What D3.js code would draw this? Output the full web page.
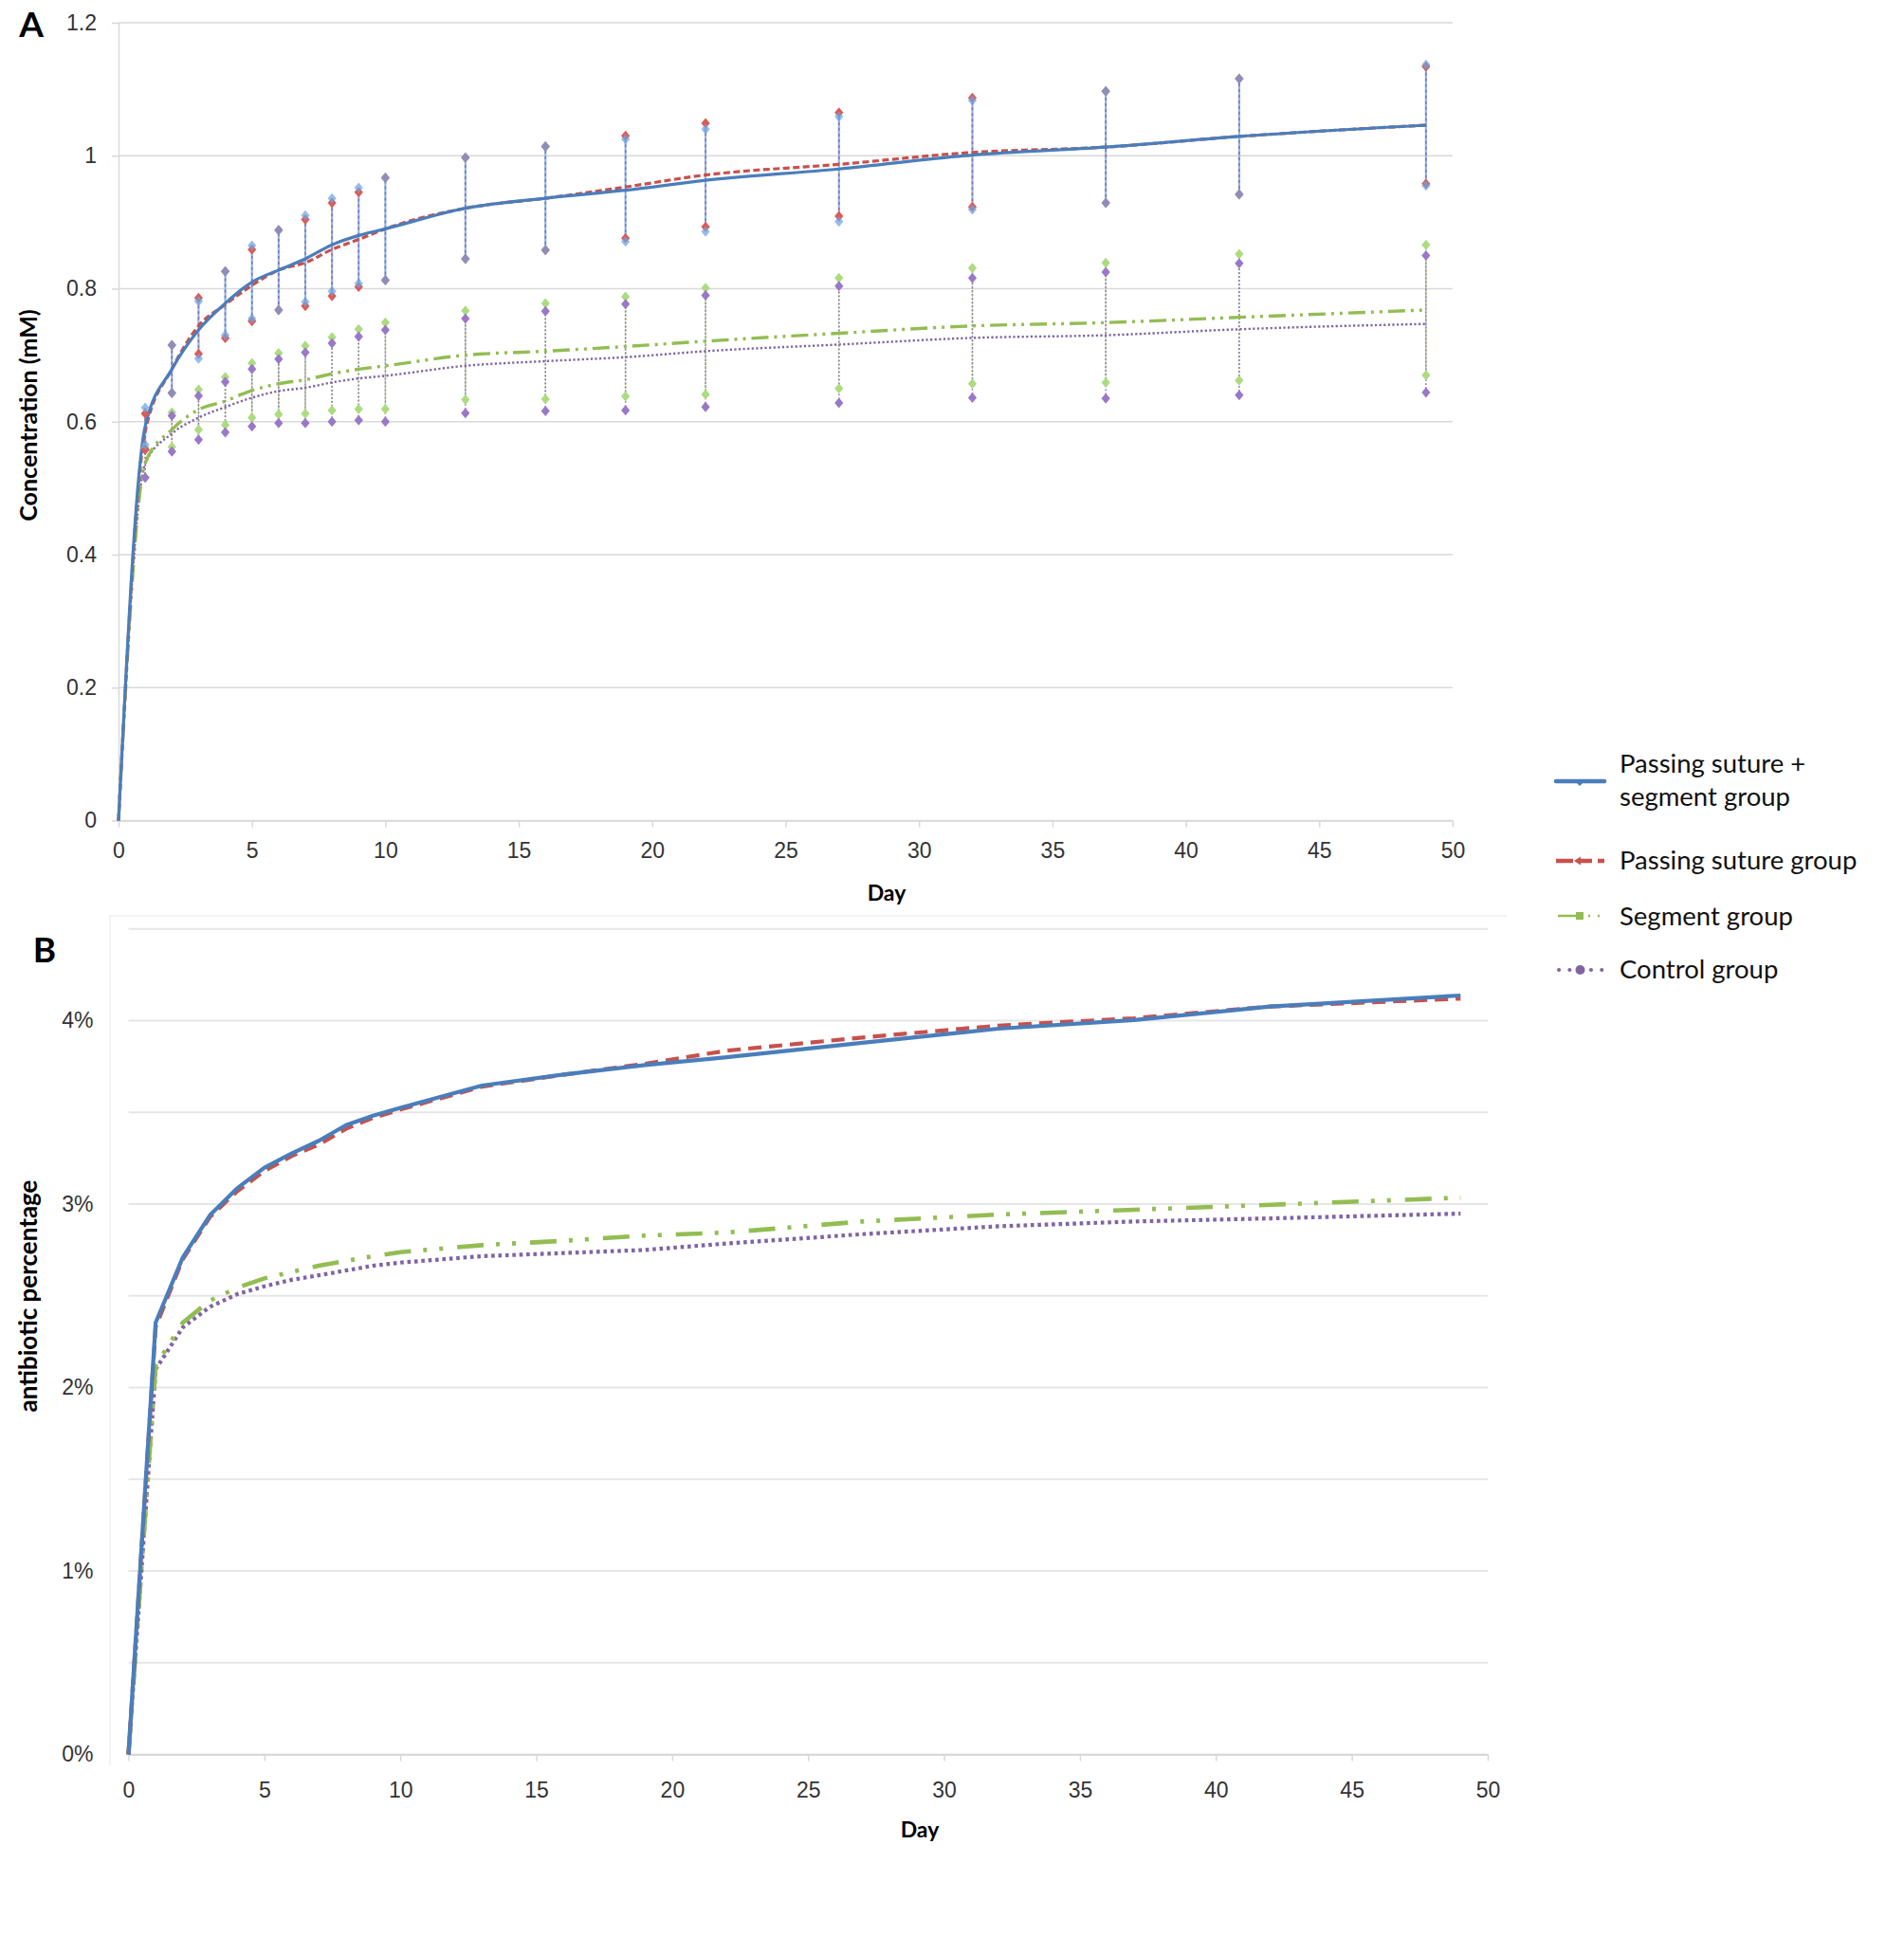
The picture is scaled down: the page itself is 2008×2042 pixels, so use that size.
<!DOCTYPE html>
<html><head><meta charset="utf-8">
<script src="https://cdn.jsdelivr.net/npm/d3@7"></script>
<style>
body{margin:0;background:#fff;}
svg{display:block;font-family:Lato,"Open Sans",sans-serif;}
</style></head><body>
<svg id="c" width="2008" height="2042"></svg>
<script>
// ---------- DATA ----------
const days = [0,1,2,3,4,5,6,7,8,9,10,13,16,19,22,27,32,37,42,49];
const groups = ["Passing suture + segment group","Passing suture group","Segment group","Control group"];

// Panel A: concentration (mM), mean and SD
const concPSSeg   = [0,0.593,0.679,0.738,0.778,0.810,0.828,0.845,0.866,0.880,0.890,0.921,0.936,0.948,0.963,0.980,1.001,1.013,1.029,1.046];
const concPSSegSD = [0,0.028,0.036,0.043,0.048,0.055,0.060,0.065,0.070,0.072,0.077,0.076,0.078,0.077,0.077,0.079,0.082,0.084,0.087,0.091];
const concPS      = [0,0.585,0.679,0.744,0.776,0.805,0.828,0.839,0.859,0.874,0.890,0.921,0.936,0.953,0.971,0.987,1.005,1.013,1.029,1.046];
const concPSSD    = [0,0.027,0.036,0.042,0.050,0.054,0.060,0.065,0.070,0.071,0.077,0.076,0.078,0.077,0.078,0.078,0.082,0.084,0.087,0.088];
const concSeg     = [0,0.538,0.588,0.618,0.631,0.647,0.657,0.663,0.672,0.679,0.684,0.700,0.706,0.713,0.721,0.733,0.744,0.749,0.757,0.768];
const concSegSD   = [0,0.022,0.026,0.030,0.036,0.041,0.046,0.051,0.055,0.060,0.065,0.067,0.072,0.075,0.080,0.083,0.087,0.090,0.095,0.098];
const concCtrl    = [0,0.537,0.582,0.606,0.622,0.636,0.646,0.651,0.659,0.665,0.669,0.684,0.691,0.697,0.706,0.716,0.726,0.730,0.739,0.747];
const concCtrlSD  = [0,0.021,0.027,0.033,0.038,0.043,0.048,0.053,0.059,0.063,0.069,0.071,0.075,0.080,0.084,0.088,0.090,0.095,0.099,0.103];

// Panel B: antibiotic percentage (%)
const pctPSSeg = [0,2.354,2.710,2.940,3.086,3.198,3.276,3.345,3.430,3.482,3.525,3.646,3.706,3.758,3.800,3.879,3.956,4.003,4.077,4.137];
const pctPS    = [0,2.330,2.700,2.930,3.070,3.180,3.262,3.325,3.410,3.470,3.515,3.640,3.705,3.765,3.836,3.908,3.973,4.013,4.077,4.120];
const pctSeg   = [0,2.120,2.354,2.474,2.544,2.595,2.630,2.664,2.690,2.716,2.738,2.776,2.800,2.828,2.845,2.905,2.943,2.969,2.996,3.035];
const pctCtrl  = [0,2.100,2.328,2.440,2.509,2.552,2.587,2.612,2.638,2.664,2.681,2.716,2.733,2.750,2.785,2.836,2.879,2.905,2.922,2.948];

// ticks
const xTicks  = [0,5,10,15,20,25,30,35,40,45,50];
const yTicksA = [0,0.2,0.4,0.6,0.8,1,1.2];
const yTicksB = [0,1,2,3,4];
const yGridB  = [0,0.5,1,1.5,2,2.5,3,3.5,4,4.5];

// ---------- STYLE ----------
const sty = [
  {line:"#4a7ebb", err:"#6fa3e0", dA:null, dB:null, wA:3.2, wB:4.2, dErr:null, errW:2.2, errC:"#8db9ea"},
  {line:"#c9504c", err:"#dc5b57", dA:"7,3.5", dB:"14,8", wA:3.2, wB:4.2, dErr:"3,3", errW:1.4, errC:"#8a6aa0"},
  {line:"#93bd52", err:"#addc80", dA:"18,6,3,6,3,6", dB:"28,13,4,13,4,15", wA:3.4, wB:4.6, dErr:"2,2", errW:1.5, errC:"#8fbd55"},
  {line:"#8064a2", err:"#9a78c8", dA:"2.2,2.4", dB:"3.6,3.8", wA:2.4, wB:4.2, dErr:"1.6,2.4", errW:1.5, errC:"#9470c0"}
];
const concMeans = [concPSSeg, concPS, concSeg, concCtrl];
const concSDs   = [concPSSegSD, concPSSD, concSegSD, concCtrlSD];
const pctVals   = [pctPSSeg, pctPS, pctSeg, pctCtrl];

const svg = d3.select("#c");
svg.append("rect").attr("width",2008).attr("height",2042).attr("fill","#fff");

const gridC = "#d9d9d9", tickC = "#333333", tickFS = 23;

// ---------- PANEL A ----------
const xA = d3.scaleLinear().domain([0,50]).range([125,1532]);
const yA = d3.scaleLinear().domain([0,1.2]).range([865.5,24]);
const gA = svg.append("g");

gA.append("g").selectAll("line").data(yTicksA).join("line")
  .attr("x1",xA(0)).attr("x2",xA(50)).attr("y1",d=>yA(d)).attr("y2",d=>yA(d))
  .attr("stroke",gridC).attr("stroke-width",1.5);

const axYA = gA.append("g").attr("transform",`translate(${xA(0)},0)`)
  .call(d3.axisLeft(yA).tickValues(yTicksA).tickFormat(d3.format("~g")).tickSize(7).tickPadding(16).tickSizeOuter(0));
const axXA = gA.append("g").attr("transform",`translate(0,${yA(0)})`)
  .call(d3.axisBottom(xA).tickValues(xTicks).tickFormat(d3.format("d")).tickSize(7).tickPadding(16).tickSizeOuter(0));
[axYA, axXA].forEach(a=>{
  a.select(".domain").attr("stroke",gridC).attr("stroke-width",1.5);
  a.selectAll(".tick line").attr("stroke",gridC).attr("stroke-width",1.5);
  a.selectAll(".tick text").attr("fill",tickC).attr("font-size",tickFS);
});

// error bar lines
const diamond = "M0,-5.5L4.6,0L0,5.5L-4.6,0Z";
const errOrder = [2,3,0,1];
errOrder.forEach(i=>{
  const s = sty[i];
  gA.append("g").selectAll("line").data(days.map((d,k)=>({d, m:concMeans[i][k], sd:concSDs[i][k]})).filter(p=>p.sd>0))
    .join("line")
    .attr("x1",p=>xA(p.d)).attr("x2",p=>xA(p.d))
    .attr("y1",p=>yA(p.m-p.sd)).attr("y2",p=>yA(p.m+p.sd))
    .attr("stroke",s.errC).attr("stroke-width",s.errW)
    .attr("stroke-dasharray",s.dErr);
});

// mean lines (smoothed)
const lineA = d3.line().x((d,k)=>xA(days[k])).y(d=>yA(d)).curve(d3.curveMonotoneX);
[3,2,1,0].forEach(i=>{
  const s = sty[i];
  gA.append("path").attr("d",lineA(concMeans[i])).attr("fill","none")
    .attr("stroke",s.line).attr("stroke-width",s.wA)
    .attr("stroke-dasharray",s.dA).attr("stroke-linejoin","round");
});

// diamonds at error-bar ends
const diaOrder = [2,3,1,0];
diaOrder.forEach(i=>{
  const s = sty[i];
  const pts = [];
  days.forEach((d,k)=>{ const sd=concSDs[i][k]; if(sd>0){ pts.push({d, v:concMeans[i][k]+sd}); pts.push({d, v:concMeans[i][k]-sd}); } });
  gA.append("g").selectAll("path").data(pts).join("path")
    .attr("d",diamond).attr("transform",p=>`translate(${xA(p.d)},${yA(p.v)})`)
    .attr("fill",s.err).attr("opacity", i===0?0.72:1);
});

// Titles A
gA.append("text").attr("x",33).attr("y",39).attr("text-anchor","middle")
  .attr("font-size",37).attr("font-weight","bold").attr("fill","#000").text("A");
gA.append("text").attr("transform","translate(39,438) rotate(-90)").attr("text-anchor","middle")
  .attr("font-size",25).attr("font-weight","bold").attr("fill","#000").text("Concentration (mM)");
gA.append("text").attr("x",935).attr("y",950).attr("text-anchor","middle")
  .attr("font-size",23).attr("font-weight","bold").attr("fill","#000").text("Day");

// ---------- PANEL B ----------
const xB = d3.scaleLinear().domain([0,50]).range([135.5,1569]);
const yB = d3.scaleLinear().domain([0,4.5]).range([1850.5,979.75]);
const gB = svg.append("g");

// chart area frame (faint)
gB.append("path").attr("d","M116,1862V966H1589").attr("fill","none").attr("stroke","#efefef").attr("stroke-width",1.5);

gB.append("g").selectAll("line").data(yGridB).join("line")
  .attr("x1",xB(0)).attr("x2",xB(50)).attr("y1",d=>yB(d)).attr("y2",d=>yB(d))
  .attr("stroke","#e6e6e6").attr("stroke-width",2);

const axYB = gB.append("g").attr("transform",`translate(${xB(0)},0)`)
  .call(d3.axisLeft(yB).tickValues(yTicksB).tickFormat(d=>d+"%").tickSize(0).tickPadding(37));
axYB.select(".domain").remove();
const axXB = gB.append("g").attr("transform",`translate(0,${yB(0)})`)
  .call(d3.axisBottom(xB).tickValues(xTicks).tickFormat(d3.format("d")).tickSize(7).tickPadding(22).tickSizeOuter(0));
axXB.select(".domain").attr("stroke",gridC).attr("stroke-width",2);
axXB.selectAll(".tick line").attr("stroke",gridC).attr("stroke-width",1.5);
[axYB, axXB].forEach(a=>a.selectAll(".tick text").attr("fill",tickC).attr("font-size",tickFS));

const lineB = d3.line().x((d,k)=>xB(days[k])).y(d=>yB(d));
[3,2,1,0].forEach(i=>{
  const s = sty[i];
  gB.append("path").attr("d",lineB(pctVals[i])).attr("fill","none")
    .attr("stroke",s.line).attr("stroke-width",s.wB)
    .attr("stroke-dasharray",s.dB).attr("stroke-linejoin","round");
});

gB.append("text").attr("x",47).attr("y",1015).attr("text-anchor","middle")
  .attr("font-size",37).attr("font-weight","bold").attr("fill","#000").text("B");
gB.append("text").attr("transform","translate(39,1367) rotate(-90)").attr("text-anchor","middle")
  .attr("font-size",26).attr("font-weight","bold").attr("fill","#000").text("antibiotic percentage");
gB.append("text").attr("x",970).attr("y",1938).attr("text-anchor","middle")
  .attr("font-size",23).attr("font-weight","bold").attr("fill","#000").text("Day");

// ---------- LEGEND ----------
const lg = svg.append("g");
const lx0 = 1641, lx1 = 1692, lmid = 1666, ltx = 1708;
const legY = [824, 908, 966, 1023];
// blue
lg.append("line").attr("x1",lx0).attr("x2",lx1).attr("y1",legY[0]).attr("y2",legY[0])
  .attr("stroke",sty[0].line).attr("stroke-width",4.5).attr("stroke-linecap","round");
lg.append("path").attr("d",`M${lmid-5},${legY[0]}L${lmid+5},${legY[0]}L${lmid},${legY[0]+5}Z`).attr("fill",sty[0].line);
// red
lg.append("line").attr("x1",lx0).attr("x2",lx1).attr("y1",legY[1]).attr("y2",legY[1])
  .attr("stroke",sty[1].line).attr("stroke-width",4.5).attr("stroke-dasharray","18,6,14,6");
lg.append("path").attr("d",`M${lmid-6},${legY[1]}L${lmid+1},${legY[1]-4.5}L${lmid+1},${legY[1]+4.5}Z`).attr("fill",sty[1].line);
// green
lg.append("line").attr("x1",lx0+2).attr("x2",lx1).attr("y1",legY[2]).attr("y2",legY[2])
  .attr("stroke",sty[2].line).attr("stroke-width",2.6).attr("stroke-dasharray","22,10,2,8,2,40");
lg.append("rect").attr("x",lmid-4).attr("y",legY[2]-4).attr("width",8).attr("height",8).attr("fill",sty[2].line);
// purple
lg.append("line").attr("x1",lx0+3).attr("x2",lx1).attr("y1",legY[3]).attr("y2",legY[3])
  .attr("stroke",sty[3].line).attr("stroke-width",4).attr("stroke-linecap","round").attr("stroke-dasharray","0.1,11.2");
lg.append("circle").attr("cx",lmid+0.5).attr("cy",legY[3]).attr("r",5).attr("fill",sty[3].line);

const legText = [
  {lines:["Passing suture +","segment group"], ys:[805,840]},
  {lines:[groups[1]], ys:[907]},
  {lines:[groups[2]], ys:[966]},
  {lines:[groups[3]], ys:[1022]}
];
legText.forEach(t=>{
  t.lines.forEach((s,j)=>{
    lg.append("text").attr("x",ltx).attr("y",t.ys[j]).attr("dy","0.36em")
      .attr("font-size",27.5).attr("fill","#111").text(s);
  });
});
</script>
</body></html>
